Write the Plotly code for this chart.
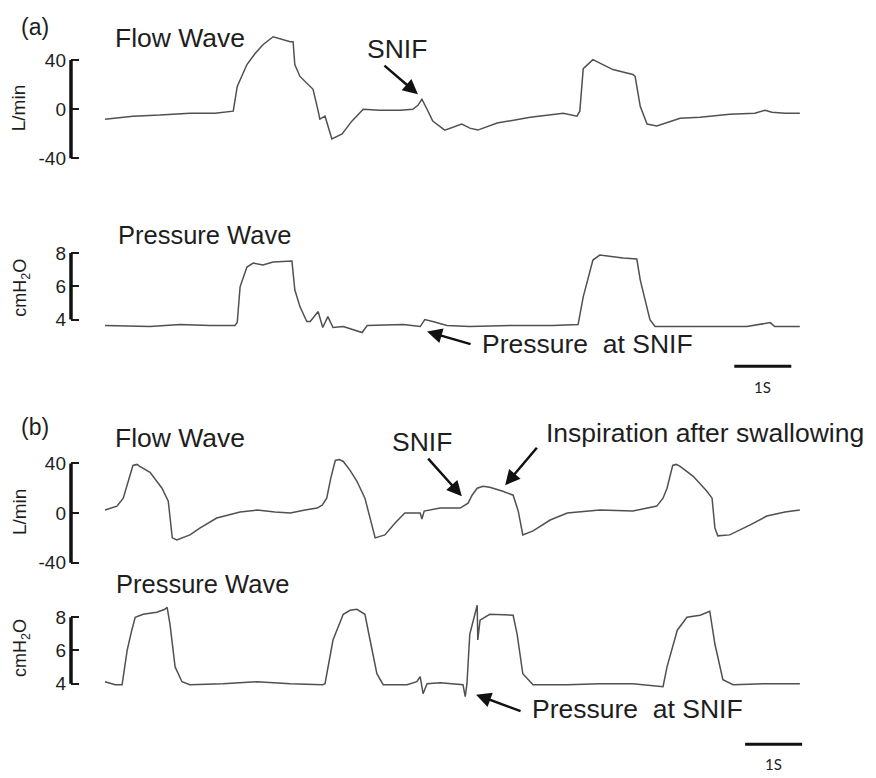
import plotly.graph_objects as go

# ---------------- data (time in seconds, values in axis units) ----------------
flow_a_t = [0.00, 0.49, 0.96, 1.49, 1.93, 2.25, 2.32, 2.49, 2.63, 2.77, 2.95, 3.12, 3.25, 3.30, 3.33,
            3.42, 3.65, 3.74, 3.77, 3.86, 3.98, 4.16, 4.33, 4.53, 4.82, 5.18, 5.40, 5.49, 5.56, 5.65,
            5.75, 5.96, 6.14, 6.26, 6.40, 6.54, 6.88, 7.46, 8.04, 8.28, 8.33, 8.39, 8.56, 8.91, 9.12,
            9.26, 9.30, 9.39, 9.51, 9.68, 10.09, 10.44, 10.96, 11.40, 11.58, 11.70, 11.93, 12.19]
flow_a_v = [-8.1, -5.7, -4.8, -3.2, -3.2, -1.6, 18.6, 36.4, 45.2, 52.5, 59.0, 56.6, 54.9, 54.9, 36.4,
            26.7, 16.2, -1.6, -8.1, -5.7, -24.2, -20.2, -9.7, 0.0, -0.8, -0.8, 0.0, 3.2, 8.1, 0.0,
            -9.7, -17.0, -13.7, -12.1, -15.4, -17.0, -11.3, -6.5, -3.2, -5.7, -1.6, 33.1, 40.4, 32.3, 29.9,
            28.3, 26.7, 2.4, -12.1, -13.7, -7.3, -6.5, -4.0, -3.2, -0.8, -2.4, -3.2, -3.2]

press_a_t = [0.00, 0.79, 1.32, 1.84, 2.28, 2.32, 2.37, 2.49, 2.60, 2.77, 2.95, 3.28, 3.33, 3.42, 3.54,
             3.60, 3.74, 3.82, 3.91, 4.00, 4.18, 4.35, 4.51, 4.60, 5.23, 5.53, 5.61, 5.75, 6.00, 6.40,
             7.11, 7.86, 8.30, 8.39, 8.56, 8.68, 9.09, 9.33, 9.39, 9.56, 9.65, 10.56, 11.26, 11.67,
             11.75, 12.19]
press_a_v = [3.64, 3.58, 3.70, 3.64, 3.64, 3.82, 5.97, 7.16, 7.40, 7.28, 7.46, 7.52, 5.79, 4.78, 3.88,
             3.88, 4.48, 3.52, 4.18, 3.52, 3.58, 3.40, 3.22, 3.64, 3.70, 3.58, 4.00, 3.88, 3.64, 3.58,
             3.64, 3.64, 3.70, 5.37, 7.58, 7.88, 7.70, 7.64, 6.39, 4.00, 3.58, 3.58, 3.58, 3.82,
             3.58, 3.58]

flow_b_t = [0.00, 0.21, 0.32, 0.40, 0.49, 0.56, 0.61, 0.79, 1.00, 1.11, 1.18, 1.26, 1.49, 1.67, 1.96,
            2.37, 2.67, 2.98, 3.25, 3.51, 3.72, 3.81, 3.89, 3.96, 4.04, 4.11, 4.18, 4.30, 4.42, 4.56,
            4.65, 4.74, 4.91, 5.09, 5.26, 5.53, 5.56, 5.60, 5.88, 6.23, 6.37, 6.44, 6.53, 6.63, 6.75,
            6.98, 7.16, 7.25, 7.33, 7.51, 7.81, 8.11, 8.68, 9.26, 9.68, 9.79, 9.86, 9.96, 10.02, 10.09,
            10.32, 10.56, 10.65, 10.70, 10.75, 10.96, 11.32, 11.61, 11.93, 12.19]
flow_b_v = [2.4, 5.6, 12.0, 24.0, 38.4, 39.2, 37.6, 32.8, 20.0, 9.6, -20.0, -21.6, -17.6, -12.0, -4.0,
            0.8, 2.4, 0.8, 0.0, 2.4, 4.0, 6.4, 12.0, 28.0, 42.4, 43.2, 41.6, 34.4, 25.6, 12.0,
            -4.0, -20.0, -17.6, -8.0, 0.0, 0.0, -4.8, 1.6, 4.0, 4.0, 8.0, 14.4, 20.0, 21.6, 20.8,
            17.6, 14.4, 1.6, -17.6, -14.4, -5.6, 0.0, 2.4, 1.6, 5.6, 12.0, 20.0, 38.4, 39.2, 37.6,
            29.6, 17.6, 12.0, -12.0, -18.4, -17.6, -9.6, -2.4, 0.8, 2.4]

press_b_t = [0.00, 0.18, 0.30, 0.39, 0.47, 0.53, 0.67, 0.91, 1.05, 1.09, 1.14, 1.23, 1.35, 1.49, 2.07,
             2.67, 3.25, 3.82, 3.86, 4.00, 4.18, 4.30, 4.42, 4.56, 4.65, 4.77, 4.88, 5.30, 5.47, 5.53,
             5.58, 5.65, 5.88, 6.28, 6.32, 6.35, 6.40, 6.49, 6.53, 6.54, 6.58, 6.75, 7.16, 7.23, 7.33,
             7.51, 8.11, 8.68, 9.26, 9.79, 9.86, 10.04, 10.21, 10.44, 10.61, 10.70, 10.84, 11.02,
             11.61, 12.19]
press_b_v = [4.12, 3.94, 3.94, 6.03, 7.22, 8.00, 8.18, 8.30, 8.48, 8.60, 7.58, 5.01, 4.12, 3.94, 4.00,
             4.12, 4.00, 3.94, 4.00, 6.63, 8.18, 8.42, 8.48, 8.18, 6.63, 4.60, 3.94, 3.94, 4.12, 4.42,
             3.40, 4.00, 4.06, 3.94, 3.22, 4.00, 6.99, 8.12, 8.72, 6.63, 7.82, 8.18, 8.12, 6.99, 4.60,
             3.94, 3.94, 4.00, 4.00, 3.82, 5.01, 7.22, 8.00, 8.12, 8.36, 6.39, 4.24, 3.94,
             4.00, 4.00]

flow_ticks = [-40, 0, 40]
flow_ticktext = ["-40", "0", "40"]
press_ticks = [4, 6, 8]
press_ticktext = ["4", "6", "8"]
scale_bar_seconds = 1

# ---------------- layout helpers ----------------
# The page body has an 8px default margin, so the figure is drawn 8px in from the window edge.
OFF = 8
W, H = 876 - OFF, 778 - OFF
FONT = "Liberation Sans, Arial, sans-serif"
TXT = "#1e1e1e"
LINE = "#505050"

def px(x):
    return (x - OFF) / W

def py(y):
    return 1 - (y - OFF) / H

X_LEFT, X_RIGHT = 71, 810
PX_PER_S = 57.0
T0_PX = 105
x_range = [(X_LEFT - T0_PX) / PX_PER_S, (X_RIGHT - T0_PX) / PX_PER_S]

def ydomain(zero_px, zero_val, px_per_unit, rng):
    top = zero_px - (rng[1] - zero_val) * px_per_unit
    bot = zero_px + (zero_val - rng[0]) * px_per_unit
    return [py(bot), py(top)]

panels = [
    dict(t=flow_a_t, v=flow_a_v, rng=[-50, 70], dom=ydomain(108, 0, 1.2375, [-50, 70]),
         tv=flow_ticks, tt=flow_ticktext),
    dict(t=press_a_t, v=press_a_v, rng=[3, 8.5], dom=ydomain(320, 4, 16.75, [3, 8.5]),
         tv=press_ticks, tt=press_ticktext),
    dict(t=flow_b_t, v=flow_b_v, rng=[-45, 50], dom=ydomain(515, 0, 1.25, [-45, 50]),
         tv=flow_ticks, tt=flow_ticktext),
    dict(t=press_b_t, v=press_b_v, rng=[3, 9], dom=ydomain(687, 4, 16.75, [3, 9]),
         tv=press_ticks, tt=press_ticktext),
]

fig = go.Figure()
layout = dict(width=W, height=H, margin=dict(l=0, r=0, t=0, b=0),
              paper_bgcolor="white", plot_bgcolor="white", showlegend=False,
              font=dict(family=FONT, color=TXT))
shapes = []
for i, p in enumerate(panels, start=1):
    xs = "" if i == 1 else str(i)
    fig.add_trace(go.Scatter(x=p["t"], y=p["v"], mode="lines",
                             line=dict(color=LINE, width=1.5),
                             xaxis="x" + xs, yaxis="y" + xs, hoverinfo="skip"))
    layout["xaxis" + xs] = dict(domain=[px(X_LEFT), px(X_RIGHT)], range=x_range, visible=False,
                                anchor="y" + xs, fixedrange=True)
    layout["yaxis" + xs] = dict(domain=p["dom"], range=p["rng"], anchor="x" + xs,
                                showgrid=False, zeroline=False, showline=False,
                                ticks="inside", ticklen=8, tickwidth=1.6, tickcolor="#1a1a1a",
                                tickvals=p["tv"], ticktext=p["tt"], ticklabelstandoff=4,
                                tickfont=dict(size=19, color=TXT, family=FONT), fixedrange=True)
    shapes.append(dict(type="line", xref="paper", yref="y" + xs,
                       x0=px(X_LEFT), x1=px(X_LEFT), y0=p["tv"][0], y1=p["tv"][-1],
                       line=dict(color="#111", width=3.5)))

# scale bars (1 s)
shapes.append(dict(type="line", xref="x", yref="paper", x0=11.04, x1=11.04 + scale_bar_seconds,
                   y0=py(367), y1=py(367), line=dict(color="#111", width=3)))
shapes.append(dict(type="line", xref="x3", yref="paper", x0=11.23, x1=11.23 + scale_bar_seconds,
                   y0=py(748), y1=py(748), line=dict(color="#111", width=3)))
layout["shapes"] = shapes

ann = []
def text(s, x, y, size=26.5, xanchor="left", angle=0, family=FONT):
    ann.append(dict(text=s, x=px(x), y=py(y), xref="paper", yref="paper", showarrow=False,
                    xanchor=xanchor, yanchor="middle", textangle=angle, borderpad=0,
                    font=dict(size=size, color=TXT, family=family)))

def arrow(xref, yref, x, y, ax, ay):
    ann.append(dict(text="", x=x, y=y, xref=xref, yref=yref, ax=ax, ay=ay, showarrow=True,
                    arrowhead=2, arrowsize=1.2, arrowwidth=2.5, arrowcolor="#111", standoff=0))

text("(a)", 35, 25, size=23, xanchor="center")
text("Flow Wave", 114, 36)
text("SNIF", 397, 47, xanchor="center")
text("Pressure Wave", 117, 235, size=25.5)
text("Pressure  at SNIF", 481, 345)
text("1S", 762, 388, size=15, xanchor="center", family="Lato, sans-serif")
text("(b)", 35, 428, size=23, xanchor="center")
text("Flow Wave", 114, 439)
text("SNIF", 422, 443, xanchor="center")
text("Inspiration after swallowing", 545, 434)
text("Pressure Wave", 115, 587, size=25.5)
text("Pressure  at SNIF", 531, 712)
text("1S", 773, 768, size=15, xanchor="center", family="Lato, sans-serif")

text("L/min", 18, 107, size=19, xanchor="center", angle=-90)
text("cmH<sub>2</sub>O", 22, 288, size=18, xanchor="center", angle=-90)
text("L/min", 19, 514, size=19, xanchor="center", angle=-90)
text("cmH<sub>2</sub>O", 22, 651, size=18, xanchor="center", angle=-90)

arrow("x", "y", 5.49, 12.1, -35, -30)
arrow("x2", "y2", 5.65, 3.28, 45, 13)
arrow("x3", "y3", 6.26, 13.6, -35, -39)
arrow("x3", "y3", 7.02, 22.4, 33, -39)
arrow("x4", "y4", 6.51, 3.34, 46, 17)
layout["annotations"] = ann

fig.update_layout(**layout)
fig.write_html("out.html")
